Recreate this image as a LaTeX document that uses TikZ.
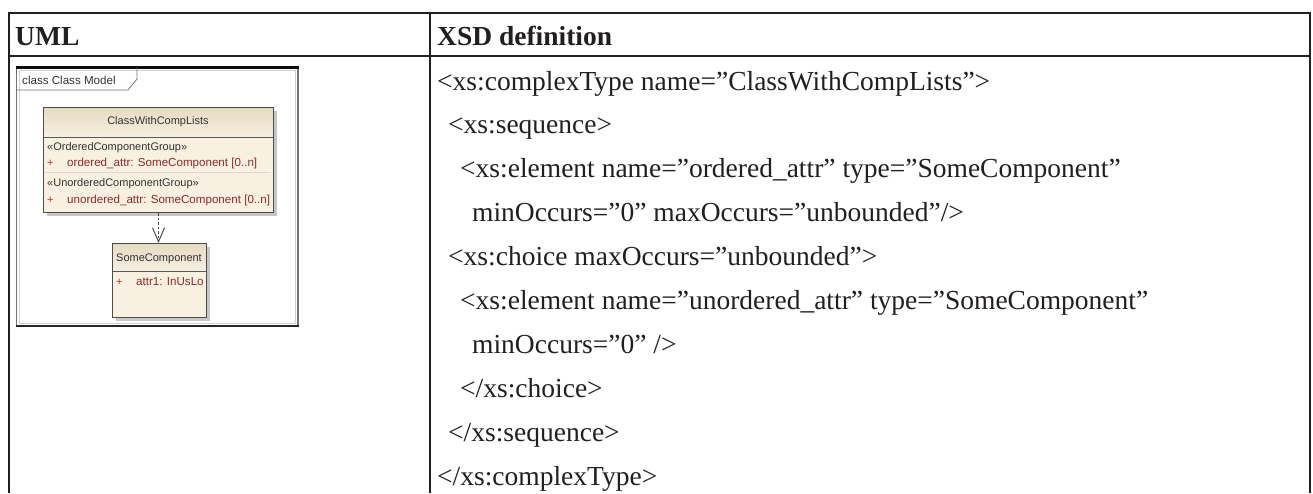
\documentclass[tikz,border=0pt]{standalone}
\usepackage{fontspec}
\setmainfont{Liberation Serif}
\setsansfont{Liberation Sans}
\usetikzlibrary{arrows.meta}
\definecolor{ink}{HTML}{231F20}
\definecolor{tanA}{HTML}{E6DAC0}
\definecolor{tanB}{HTML}{F6F0E3}
\definecolor{cream}{HTML}{F8F1E1}
\definecolor{attrred}{HTML}{8E2A2A}
\definecolor{plusred}{HTML}{C23030}
\begin{document}
\begin{tikzpicture}[x=1pt,y=-1pt,
  rule/.style={draw=ink, line width=2pt},
  hdr/.style={anchor=base west, inner sep=0, text=ink, font=\bfseries\fontsize{27.5}{30}\selectfont},
  code/.style={anchor=base west, inner sep=0, text=ink, font=\fontsize{27.5}{30}\selectfont},
  umltxt/.style={inner sep=0, text=black!80, font=\sffamily\fontsize{11}{12}\selectfont},
  stereo/.style={umltxt, anchor=west, font=\sffamily\fontsize{11}{12}\selectfont},
  attrtxt/.style={umltxt, anchor=west, text=attrred, font=\sffamily\fontsize{11.6}{12}\selectfont},
  plustxt/.style={umltxt, anchor=west, text=plusred, font=\sffamily\fontsize{11}{12}\selectfont},
  classbox/.style={draw=black!70, line width=1pt, inner sep=0, anchor=north west},
  dep/.style={draw=black!70, line width=1pt, dash pattern=on 2.5pt off 2pt, -{Straight Barb[length=14pt,width=12pt,line width=1pt]}}
]
\useasboundingbox (0,0) rectangle (1313,493);
\fill[white] (0,0) rectangle (1313,493);

% ---- table rules ----
\draw[rule] (8.5,493) -- (8.5,12.5) -- (1309.5,12.5) -- (1309.5,493);
\draw[rule] (8.5,55.5) -- (1309.5,55.5);
\draw[rule] (430,12.5) -- (430,493);

% ---- headers ----
\node[hdr] (h1) at (15,45) {UML};
\node[hdr] (h2) at (437,45) {XSD definition};

% ---- XSD code ----
\node[code] (c1)  at (437,90)    {<xs:complexType name=”ClassWithCompLists”>};
\node[code] (c2)  at (448,133.9) {<xs:sequence>};
\node[code] (c3)  at (460,177.8) {<xs:element name=”ordered\_attr” type=”SomeComponent”};
\node[code] (c4)  at (472,221.7) {minOccurs=”0” maxOccurs=”unbounded”/>};
\node[code] (c5)  at (448,265.6) {<xs:choice maxOccurs=”unbounded”>};
\node[code] (c6)  at (460,309.5) {<xs:element name=”unordered\_attr” type=”SomeComponent”};
\node[code] (c7)  at (472,353.4) {minOccurs=”0” />};
\node[code] (c8)  at (460,397.3) {</xs:choice>};
\node[code] (c9)  at (448,441.2) {</xs:sequence>};
\node[code] (c10) at (437,485.1) {</xs:complexType>};

% ---- UML picture frame ----
\draw[black!55, line width=1.2pt, fill=white] (16.5,67.5) rectangle (298,326);
\draw[black!18, line width=0.8pt] (19.5,70) rectangle (295.5,323.5);
\draw[black!95, line width=2.5pt] (15.5,67.5) -- (299,67.5);
\draw[black!85, line width=2pt] (15.5,326) -- (299,326);
\draw[black!55, line width=0.8pt] (16.5,90) -- (128,90) -- (137,79) -- (137,67.5);
\node[umltxt, anchor=west, font=\sffamily\fontsize{11.6}{12}\selectfont] (frame) at (22,80.5) {class Class Model};

% ---- class ClassWithCompLists ----
\fill[black!22] (46.5,110.5) rectangle (276.5,215.5);
\fill[cream] (43,107) rectangle (273,212);
\shade[top color=tanA, bottom color=tanB] (43,107) rectangle (273,137);
\draw[black!65, line width=0.9pt] (43,137) -- (273,137);
\draw[black!15, line width=0.8pt] (45,172) -- (271,172);
\node[classbox, minimum width=230pt, minimum height=105pt] (cls) at (43,107) {};
\node[umltxt] (cname) at (158,122) {ClassWithCompLists};
\node[stereo] (st1) at (47,148) {«OrderedComponentGroup»};
\node[plustxt] (p1) at (47,163) {+};
\node[attrtxt] (a1) at (67,163) {ordered\_attr: SomeComponent [0..n]};
\node[stereo] (st2) at (47,184) {«UnorderedComponentGroup»};
\node[plustxt] (p2) at (47,200) {+};
\node[attrtxt] (a2) at (67,200) {unordered\_attr: SomeComponent [0..n]};

% ---- class SomeComponent ----
\fill[black!22] (115.5,246.5) rectangle (209.5,320.5);
\fill[cream] (112,243) rectangle (206,317);
\shade[top color=tanA, bottom color=tanB] (112,243) rectangle (206,271);
\draw[black!65, line width=0.9pt] (112,271) -- (206,271);
\node[classbox, minimum width=94pt, minimum height=74pt] (sc) at (112,243) {};
\node[umltxt] (scname) at (159,258.5) {SomeComponent};
\node[plustxt] (p3) at (116,282) {+};
\node[attrtxt] (a3) at (136,282) {attr1: InUsLo};

% ---- dependency ----
\draw[dep] (cls.south) -- (cls.south |- sc.north);
\end{tikzpicture}
\end{document}
